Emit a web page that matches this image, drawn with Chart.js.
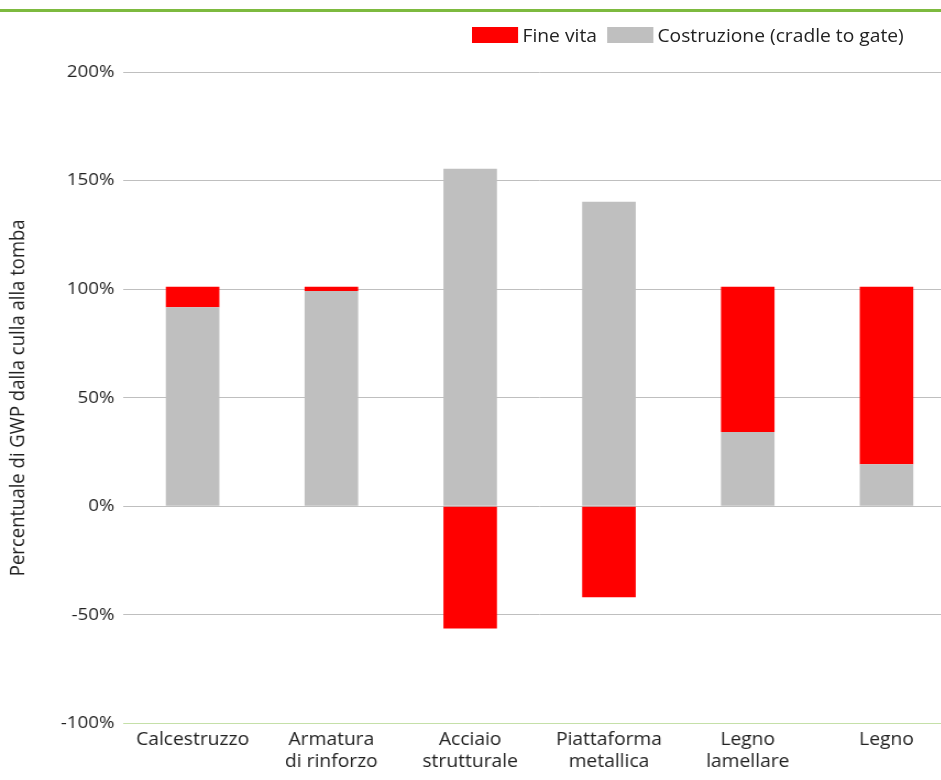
<!DOCTYPE html>
<html>
<head>
<meta charset="utf-8">
<script src="https://cdn.jsdelivr.net/npm/chart.js@4.4.1/dist/chart.umd.min.js"></script>
<style>
  html, body { margin: 0; padding: 0; background: #fff; overflow: hidden; }
  #wrap { position: relative; width: 941px; height: 780px; overflow: hidden; }
  #topLine { position: absolute; left: 0; top: 9px; width: 941px; height: 3px; background: #7dba3f; }
  /* the reference is slightly stretched horizontally */
  #stretch { position: absolute; left: 0; top: 0; width: 869px; height: 780px; transform: scaleX(1.1); transform-origin: 0 0; }
  #legend { position: absolute; top: 23px; left: 429px; font-family: "Open Sans", sans-serif; font-size: 17.5px; color: #222; display: flex; align-items: center; white-space: nowrap; }
  #legend .box { display: inline-block; width: 42px; height: 16px; margin-right: 4px; }
  #legend .item { display: flex; align-items: center; margin-right: 9px; }
</style>
</head>
<body>
<div id="wrap">
  <div id="stretch">
    <canvas id="chartCanvas" width="869" height="780"></canvas>
    <div id="legend"></div>
  </div>
  <div id="topLine"></div>
</div>
<script>
/********** DATA **********/
const categories = [
  ["Calcestruzzo"],
  ["Armatura", "di rinforzo"],
  ["Acciaio", "strutturale"],
  ["Piattaforma", "metallica"],
  ["Legno", "lamellare"],
  ["Legno"]
];
const costruzione = [91.7, 99.2, 155.5, 140.3, 34.2, 19.4];   // cradle to gate
const fineVita = [9.4, 1.9, -56.2, -41.9, 66.9, 81.7];
const yTicks = [-100, -50, 0, 50, 100, 150, 200];

const RED = "#ff0000";
const GREY = "#bfbfbf";

/********** LEGEND (HTML) **********/
const legendItems = [
  { label: "Fine vita", color: RED },
  { label: "Costruzione (cradle to gate)", color: GREY }
];
const legendEl = document.getElementById("legend");
legendItems.forEach(item => {
  const span = document.createElement("span");
  span.className = "item";
  span.innerHTML = '<span class="box" style="background:' + item.color + '"></span>' + item.label;
  legendEl.appendChild(span);
});

/********** CHART **********/
const ctx = document.getElementById("chartCanvas").getContext("2d");
new Chart(ctx, {
  type: "bar",
  data: {
    labels: categories,
    datasets: [
      { label: "Costruzione (cradle to gate)", data: costruzione, backgroundColor: GREY, borderWidth: 0 },
      { label: "Fine vita", data: fineVita, backgroundColor: RED, borderWidth: 0 }
    ]
  },
  options: {
    responsive: false,
    animation: false,
    layout: { padding: { top: 72, bottom: 2, right: 0, left: 0 } },
    datasets: { bar: { categoryPercentage: 1, barPercentage: 0.386 } },
    plugins: {
      legend: { display: false },
      tooltip: { enabled: false }
    },
    scales: {
      x: {
        stacked: true,
        grid: { display: false, drawTicks: false },
        border: { display: true, color: "#c5e0a8", width: 1 },
        ticks: {
          color: "#222",
          padding: 5,
          maxRotation: 0,
          autoSkip: false,
          font: { family: "Open Sans", size: 17.5, lineHeight: 1.27 }
        }
      },
      y: {
        stacked: true,
        min: -100,
        max: 200,
        afterBuildTicks: axis => { axis.ticks = yTicks.map(v => ({ value: v })); },
        afterFit: axis => { axis.width = 112; },
        border: { display: false },
        grid: {
          drawTicks: false,
          lineWidth: 1,
          color: c => c.tick && c.tick.value === -100 ? "#c5e0a8" : "#bfbfbf"
        },
        ticks: {
          color: "#222",
          padding: 8,
          callback: v => v + "%",
          font: { family: "Open Sans", size: 17 }
        },
        title: {
          display: true,
          text: "Percentuale di GWP dalla culla alla tomba",
          color: "#222",
          padding: { top: 6, bottom: 0 },
          font: { family: "Open Sans", size: 18.5 }
        }
      }
    }
  }
});
</script>
</body>
</html>
